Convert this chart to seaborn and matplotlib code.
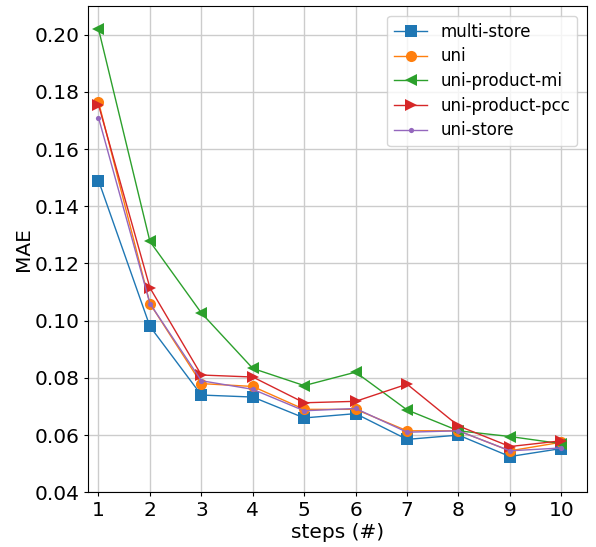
import matplotlib
matplotlib.use("Agg")
import matplotlib.pyplot as plt
import seaborn as sns

steps = [1, 2, 3, 4, 5, 6, 7, 8, 9, 10]
multi_store = [0.149, 0.098, 0.074, 0.0733, 0.066, 0.0675, 0.0585, 0.060, 0.0525, 0.0553]
uni = [0.1765, 0.106, 0.078, 0.077, 0.069, 0.069, 0.0615, 0.0615, 0.0545, 0.0575]
uni_product_mi = [0.202, 0.1277, 0.1027, 0.0833, 0.0773, 0.082, 0.0688, 0.0615, 0.0595, 0.057]
uni_product_pcc = [0.1755, 0.1115, 0.081, 0.0803, 0.0713, 0.0718, 0.0778, 0.0632, 0.056, 0.058]
uni_store = [0.171, 0.106, 0.079, 0.076, 0.0685, 0.0693, 0.061, 0.0615, 0.0545, 0.0555]

series = [
    ("multi-store", multi_store, "s", 8),
    ("uni", uni, "o", 8),
    ("uni-product-mi", uni_product_mi, "<", 8.5),
    ("uni-product-pcc", uni_product_pcc, ">", 8.5),
    ("uni-store", uni_store, ".", 7.5),
]
colors = sns.color_palette("tab10", 5)

fig, ax = plt.subplots(figsize=(5.96, 5.47), dpi=100)
for (name, vals, mk, ms), c in zip(series, colors):
    sns.lineplot(ax=ax, x=steps, y=vals, marker=mk, markersize=ms, color=c,
                 linewidth=1, markeredgewidth=0, label=name)

ax.set_xlim(0.8, 10.5)
ax.set_ylim(0.04, 0.21)
ax.set_xticks(steps)
ax.set_yticks([0.04, 0.06, 0.08, 0.10, 0.12, 0.14, 0.16, 0.18, 0.20])
ax.set_yticklabels([f"{v:.2f}" for v in ax.get_yticks()])
ax.tick_params(labelsize=14.5, length=3)
ax.set_xlabel("steps (#)", fontsize=14.5, labelpad=2)
ax.set_ylabel("MAE", fontsize=14.5, labelpad=1)
ax.grid(True, color="#cccccc", linewidth=1)
ax.legend(loc="upper right", fontsize=12, borderaxespad=0.6, labelspacing=0.4)
fig.subplots_adjust(left=0.148, right=0.985, top=0.989, bottom=0.1)
fig.savefig("out.png", dpi=100)
